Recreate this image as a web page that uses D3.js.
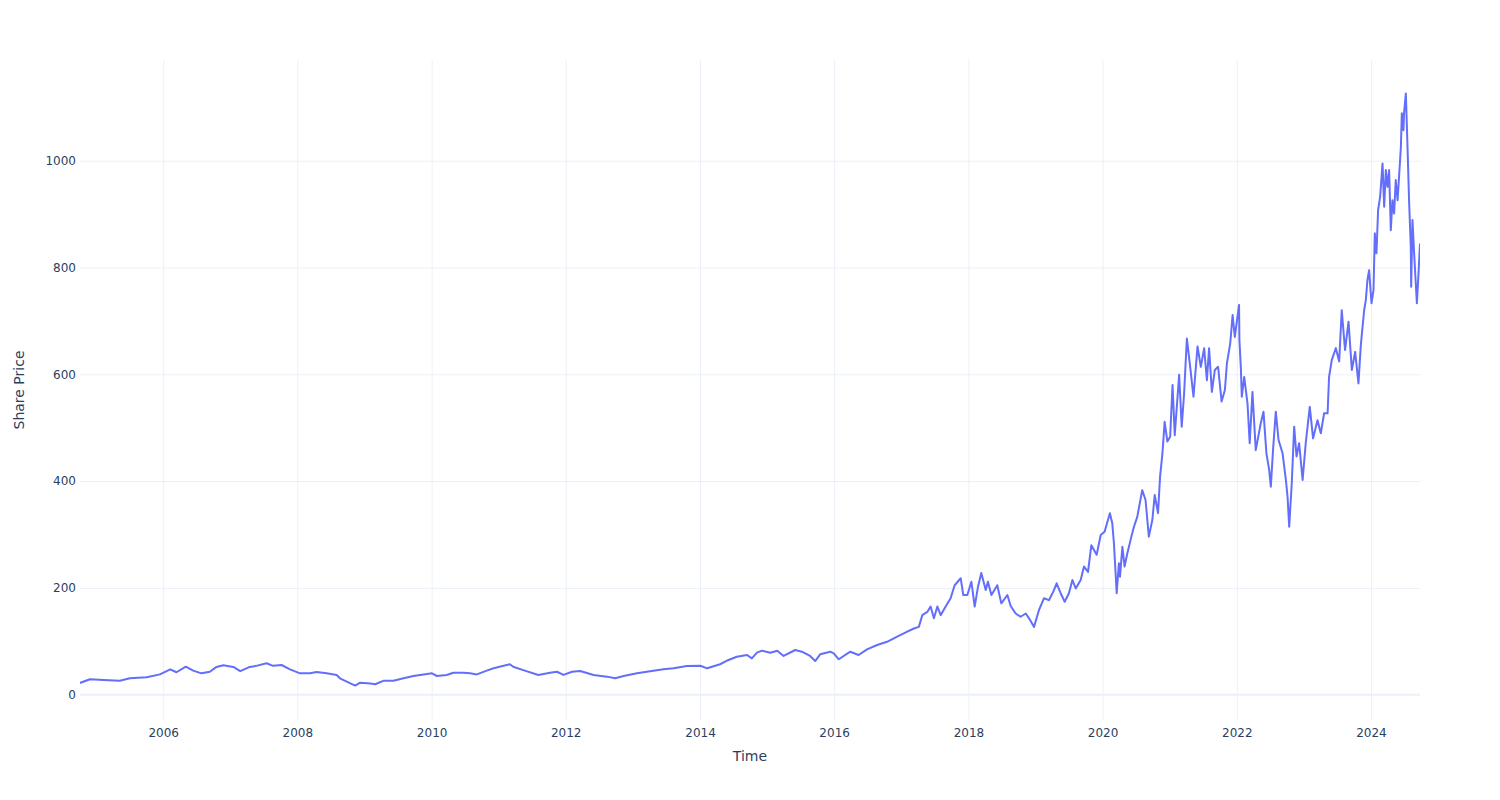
<!DOCTYPE html>
<html>
<head>
<meta charset="utf-8">
<script src="https://cdn.jsdelivr.net/npm/d3@7"></script>
<style>
  html, body { margin: 0; padding: 0; background: #fff; }
  svg { display: block; }
  text { font-family: "DejaVu Sans", "Open Sans", Verdana, Arial, sans-serif; fill: #2a3f5f; }
</style>
</head>
<body>
<svg id="chart" width="1500" height="800"></svg>
<script>
const dates = [
"2004-10-05","2004-11-28","2005-02-10","2005-05-10","2005-07-03","2005-10-03","2005-12-14",
"2006-02-08","2006-03-14","2006-05-04","2006-06-13","2006-07-28","2006-09-12","2006-10-18","2006-11-24",
"2007-01-18","2007-02-24","2007-04-17","2007-05-23","2007-07-17","2007-08-22","2007-10-07","2007-11-22",
"2008-01-16","2008-03-09","2008-04-15","2008-06-09","2008-08-02","2008-08-20","2008-09-26","2008-11-11","2008-12-08",
"2009-02-01","2009-02-28","2009-04-13","2009-06-07","2009-08-01","2009-09-24","2009-11-18",
"2010-01-03","2010-01-30","2010-03-24","2010-04-29","2010-06-23","2010-07-29","2010-09-04","2010-10-28","2010-12-04",
"2011-03-03","2011-03-21","2011-05-15","2011-08-05","2011-10-08","2011-11-14","2011-12-20",
"2012-02-04","2012-03-19","2012-06-01","2012-08-12","2012-09-26","2012-11-11",
"2013-01-23","2013-03-17","2013-04-22","2013-06-16","2013-08-10","2013-10-21",
"2014-01-03","2014-02-09","2014-04-20","2014-06-05","2014-07-20","2014-09-14","2014-10-10","2014-11-07","2014-12-04",
"2015-01-19","2015-02-25","2015-04-01","2015-06-03","2015-07-09","2015-08-23","2015-09-20","2015-10-17","2015-12-11","2015-12-30",
"2016-01-26","2016-03-29","2016-05-13","2016-06-28","2016-08-22","2016-10-15","2016-12-09",
"2017-02-02","2017-03-10","2017-04-06","2017-04-25","2017-05-22","2017-06-09","2017-06-27","2017-07-16","2017-08-03","2017-08-30","2017-09-26","2017-10-18","2017-11-20","2017-12-04","2017-12-26",
"2018-01-17","2018-02-04","2018-02-22","2018-03-12","2018-04-05","2018-04-17","2018-05-06","2018-06-07","2018-06-29","2018-08-01","2018-08-19","2018-09-15","2018-10-12","2018-11-09","2018-11-27","2018-12-24",
"2019-01-20","2019-02-16","2019-03-15","2019-04-08","2019-04-26","2019-05-18","2019-06-09","2019-07-02","2019-07-21","2019-08-08","2019-09-04","2019-09-22","2019-10-14","2019-11-01","2019-11-30","2019-12-22",
"2020-01-12","2020-02-10","2020-02-23","2020-03-03","2020-03-18","2020-03-30","2020-04-05","2020-04-18","2020-04-30","2020-05-15","2020-06-06","2020-06-20","2020-07-08","2020-08-04","2020-08-22","2020-09-09","2020-09-28","2020-10-11","2020-10-29","2020-11-09","2020-11-22","2020-12-04","2020-12-19",
"2021-01-03","2021-01-16","2021-01-28","2021-02-21","2021-03-07","2021-03-20","2021-04-04","2021-04-22","2021-05-10","2021-06-01","2021-06-19","2021-07-07","2021-07-22","2021-08-03","2021-08-18","2021-09-03","2021-09-21","2021-10-10","2021-10-28","2021-11-08","2021-11-26","2021-12-09","2021-12-21",
"2022-01-13","2022-01-15","2022-01-23","2022-01-28","2022-02-10","2022-02-28","2022-03-12","2022-03-27","2022-04-14","2022-05-11","2022-05-26","2022-06-11","2022-06-26","2022-07-05","2022-07-17","2022-08-01","2022-08-16","2022-09-07","2022-09-25","2022-10-04","2022-10-13","2022-10-27","2022-11-09","2022-11-22","2022-12-06","2022-12-25",
"2023-01-11","2023-02-02","2023-02-20","2023-03-16","2023-04-03","2023-04-21","2023-05-10","2023-05-18","2023-06-02","2023-06-24","2023-07-12","2023-07-26","2023-08-13","2023-09-01","2023-09-19","2023-10-07","2023-10-25","2023-11-07","2023-11-25","2023-12-04","2023-12-13","2023-12-22",
"2024-01-04","2024-01-15","2024-01-22","2024-01-31","2024-02-09","2024-02-20","2024-03-04","2024-03-13","2024-03-22","2024-03-31","2024-04-09","2024-04-18","2024-04-27","2024-05-06","2024-05-15","2024-05-25","2024-06-02","2024-06-12","2024-06-17","2024-06-26","2024-06-29","2024-07-09","2024-07-18","2024-07-27","2024-08-05","2024-08-07","2024-08-14","2024-08-23","2024-09-07","2024-09-16","2024-09-24"
];
const prices = [
22,29,27.5,26,30.7,32.5,38,
47.5,42,52.4,45,40,43,52,55,
52,44,52,54,58.8,54,55.6,47.5,
40,40,42.5,40,37,30.7,24.3,17,22.5,
21,19.5,26,26,30.7,35,38,
40,35,37,41,41,40,38,45,49.4,
57,52.4,46,37,41,43,37,
43,44.4,37,33.8,30.7,35,
40,43,45,47.5,49.4,53.7,
54.3,49.4,57,65,71,74.3,68,78.7,82.4,
78.7,82.4,72.5,83.7,80.5,72.5,63,75.6,80.5,77.5,
66.3,80.5,74.3,85,93,99,108.6,
118,124,127,149,155,165,143,165,149,165,180.5,205,218,186.7,186.7,
211.6,165,202,228,196,211.6,186.7,205,171,186.7,166,152,146,152,143,127,
158.6,180.5,177,193,208.6,190,174,190,214.8,199,214.8,240,230,280,262,299,
305,339.7,321,283.5,190,246,221,277,240,265,296,314.6,333,383,364.6,296,327,374,340,408,452,511,474,
483,580,486,599,502,564,667,614,558,652,614,649,589,649,567,608,614,549,570.6,620.6,658,711,670,
730,664,611,558,595,545.7,471,567,458,508,530,452,421,389.5,458,530,477,452,402,371,314.6,396,502,446,471,402,
471,539,480,514,489.5,527,527,595,627,649,624,720,645.5,698.5,608,642,583,655,720,739,776.6,795,
733,758,864,826.6,907.7,932.6,995,914,982.6,951,982.6,870,926,901,963.9,926,970,1026,1088.8,1057,1088.8,1126,1026,920,839,764,889,826.6,733,789,845
];
const xTickYears = [2006,2008,2010,2012,2014,2016,2018,2020,2022,2024];
const yTickValues = [0,200,400,600,800,1000];
const xTitle = "Time";
const yTitle = "Share Price";

const W = 1500, H = 800;
const M = {l: 80, r: 80, t: 60, b: 80};
const parse = d3.timeParse("%Y-%m-%d");
const data = dates.map((d, i) => ({date: parse(d), value: prices[i]}));

const svg = d3.select("#chart");
const x = d3.scaleTime()
  .domain(d3.extent(data, d => d.date))
  .range([M.l, W - M.r]);
const y = d3.scaleLinear()
  .domain([-47.4, 1188.6])
  .range([H - M.b, M.t]);

const gridColor = "#EBF0F8";
const xTicks = xTickYears.map(yr => new Date(yr, 0, 1));

svg.append("g")
  .attr("transform", `translate(0,${H - M.b})`)
  .call(d3.axisBottom(x).tickValues(xTicks).tickSize(-(H - M.t - M.b)).tickFormat(""))
  .call(g => g.select(".domain").remove())
  .call(g => g.selectAll("line").attr("stroke", gridColor).attr("stroke-width", 1));

svg.append("g")
  .attr("transform", `translate(${M.l},0)`)
  .call(d3.axisLeft(y).tickValues(yTickValues.filter(v => v !== 0)).tickSize(-(W - M.l - M.r)).tickFormat(""))
  .call(g => g.select(".domain").remove())
  .call(g => g.selectAll("line").attr("stroke", gridColor).attr("stroke-width", 1));

svg.append("line")
  .attr("x1", M.l).attr("x2", W - M.r)
  .attr("y1", y(0)).attr("y2", y(0))
  .attr("stroke", gridColor).attr("stroke-width", 2);

svg.append("clipPath").attr("id", "clip")
  .append("rect").attr("x", M.l).attr("y", M.t)
  .attr("width", W - M.l - M.r).attr("height", H - M.t - M.b);

svg.append("path")
  .datum(data)
  .attr("clip-path", "url(#clip)")
  .attr("fill", "none")
  .attr("stroke", "#636efa")
  .attr("stroke-width", 2)
  .attr("stroke-linejoin", "round")
  .attr("d", d3.line().x(d => x(d.date)).y(d => y(d.value)));

const xAxis = svg.append("g")
  .attr("transform", `translate(0,${H - M.b})`)
  .call(d3.axisBottom(x).tickValues(xTicks).tickSize(0).tickPadding(8).tickFormat(d3.timeFormat("%Y")));
xAxis.select(".domain").remove();
xAxis.selectAll("text").attr("font-size", 12).attr("fill", "#2a3f5f")
  .attr("font-family", "DejaVu Sans, sans-serif");

const yAxis = svg.append("g")
  .attr("transform", `translate(${M.l},0)`)
  .call(d3.axisLeft(y).tickValues(yTickValues).tickSize(0).tickPadding(4).tickFormat(d3.format("d")));
yAxis.select(".domain").remove();
yAxis.selectAll("text").attr("font-size", 12).attr("fill", "#2a3f5f")
  .attr("font-family", "DejaVu Sans, sans-serif");

svg.append("text")
  .attr("x", (M.l + W - M.r) / 2).attr("y", 761)
  .attr("text-anchor", "middle").attr("font-size", 14)
  .text(xTitle);
svg.append("text")
  .attr("transform", `translate(24,${(M.t + H - M.b) / 2}) rotate(-90)`)
  .attr("text-anchor", "middle").attr("font-size", 14)
  .text(yTitle);
</script>
</body>
</html>
